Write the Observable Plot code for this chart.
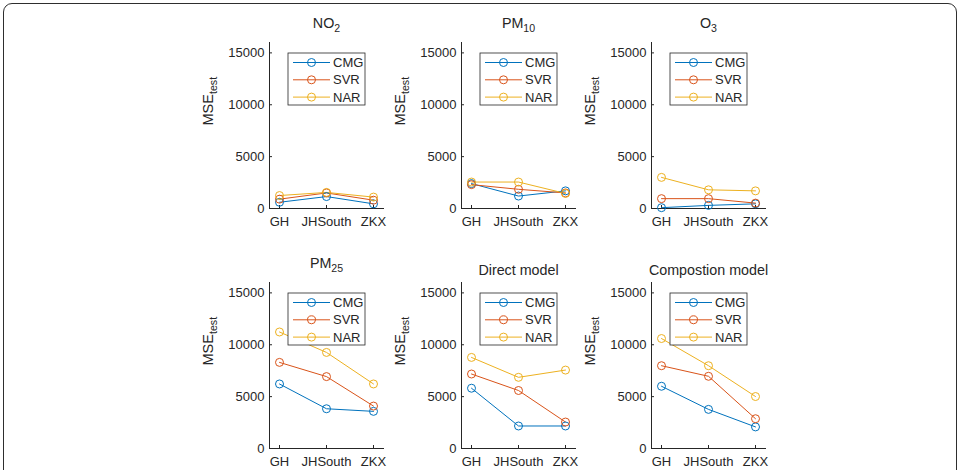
<!DOCTYPE html>
<html>
<head>
<meta charset="utf-8">
<script src="https://cdn.jsdelivr.net/npm/d3@7"></script>
<script src="https://cdn.jsdelivr.net/npm/@observablehq/plot@0.6"></script>
<style>
  html, body { margin: 0; padding: 0; background: #fff; }
  body { width: 963px; height: 470px; overflow: hidden; position: relative; font-family: "Liberation Sans", Arial, Helvetica, sans-serif; }
  #border { position: absolute; left: 3px; top: 3px; width: 952px; height: 540px; border: 1.5px solid #2e2e2e; border-radius: 9px; }
  .panel { position: absolute; }
</style>
</head>
<body>
<div id="border"></div>
<div id="charts"></div>
<script>
// Monitoring sites along the x axis and the three forecasting models
const sites = ["GH", "JHSouth", "ZKX"];
const models = ["CMG", "SVR", "NAR"];
const modelColors = ["#0072BD", "#D95319", "#EDB120"];
const yTicks = [0, 5000, 10000, 15000];

// Panel titles ("_" marks the start of a subscript)
const titles = ["NO_2", "PM_10", "O_3", "PM_25", "Direct model", "Compostion model"];

// Test MSE per panel: one row per model (CMG, SVR, NAR), one value per site
const no2 = [[600, 1150, 450], [900, 1500, 800], [1250, 1550, 1100]];
const pm10 = [[2400, 1200, 1700], [2300, 1850, 1500], [2550, 2550, 1450]];
const o3 = [[80, 300, 450], [950, 950, 520], [3000, 1800, 1700]];
const pm25 = [[6220, 3830, 3580], [8300, 6930, 4090], [11230, 9260, 6220]];
const direct = [[5810, 2170, 2170], [7180, 5590, 2550], [8780, 6860, 7560]];
const composition = [[6000, 3770, 2080], [7980, 6960, 2870], [10600, 7980, 5010]];

const panelData = [no2, pm10, o3, pm25, direct, composition];

// Layout of the 2x3 grid
const axisLefts = [269, 461, 651];
const rowTops = [0, 240];
const mLeft = 75, mTop = 42, mBottom = 30, W = 200, H = 238;
const ink = "#262626";

function toRows(table) {
  const rows = [];
  table.forEach((vals, m) => vals.forEach((v, i) => rows.push({site: sites[i], model: models[m], mse: v})));
  return rows;
}

// Turn "A_b" text into A with a subscript b
function applySubscripts(svg) {
  d3.select(svg).selectAll("text").each(function () {
    const t = this.textContent;
    if (!t.includes("_")) return;
    const [main, sub] = t.split("_");
    const sel = d3.select(this);
    sel.text(null);
    sel.append("tspan").text(main);
    sel.append("tspan").attr("dy", "0.42em").attr("font-size", "0.74em").text(sub);
  });
}

function addLegend(svg) {
  const g = d3.select(svg).append("g")
    .attr("transform", `translate(${mLeft + 19},${mTop + 11})`);
  g.append("rect").attr("width", 77).attr("height", 52)
    .attr("fill", "#fff").attr("stroke", ink).attr("stroke-width", 0.8);
  models.forEach((m, i) => {
    const y = 9.5 + i * 17.3;
    g.append("line").attr("x1", 5).attr("x2", 42).attr("y1", y).attr("y2", y)
      .attr("stroke", modelColors[i]).attr("stroke-width", 1);
    g.append("circle").attr("cx", 23.5).attr("cy", y).attr("r", 4)
      .attr("fill", "none").attr("stroke", modelColors[i]).attr("stroke-width", 1);
    g.append("text").attr("x", 45).attr("y", y).attr("dy", "0.35em")
      .attr("text-anchor", "start").attr("font-size", 13).attr("fill", ink).text(m);
  });
}

const container = document.getElementById("charts");

panelData.forEach((table, p) => {
  const col = p % 3, row = Math.floor(p / 3);
  const rows = toRows(table);
  const title = titles[p];
  const hasSub = title.includes("_");

  const chart = Plot.plot({
    width: W,
    height: H,
    marginLeft: mLeft,
    marginRight: W - mLeft - 114,
    marginTop: mTop,
    marginBottom: mBottom,
    style: {fontFamily: '"Liberation Sans", Arial, Helvetica, sans-serif', fontSize: "13px", color: ink, background: "transparent", overflow: "visible"},
    x: {type: "point", domain: sites, padding: 0.2},
    y: {domain: [0, 16000]},
    color: {domain: models, range: modelColors},
    marks: [
      Plot.frame({anchor: "left", stroke: ink}),
      Plot.frame({anchor: "bottom", stroke: ink}),
      Plot.axisX({tickSize: -3, tickPadding: 11, label: null, stroke: ink}),
      Plot.axisY({ticks: yTicks, tickSize: -3, tickPadding: 8, label: null, tickFormat: d => `${d}`, stroke: ink}),
      Plot.line(rows, {x: "site", y: "mse", z: "model", stroke: "model", strokeWidth: 1}),
      Plot.dot(rows, {x: "site", y: "mse", stroke: "model", r: 4, strokeWidth: 1, fill: "none"}),
      Plot.text([title], {frameAnchor: "top", lineAnchor: "bottom", dy: hasSub ? -15 : -8, fontSize: 14.3, fontWeight: "normal", fill: ink}),
      Plot.text(["MSE_test"], {frameAnchor: "left", rotate: -90, lineAnchor: "bottom", dx: -57, fontSize: 14.5, fontWeight: "normal", fill: ink})
    ]
  });

  applySubscripts(chart);
  addLegend(chart);
  chart.classList.add("panel");
  chart.style.left = `${axisLefts[col] - mLeft}px`;
  chart.style.top = `${rowTops[row]}px`;
  container.appendChild(chart);
});
</script>
</body>
</html>
